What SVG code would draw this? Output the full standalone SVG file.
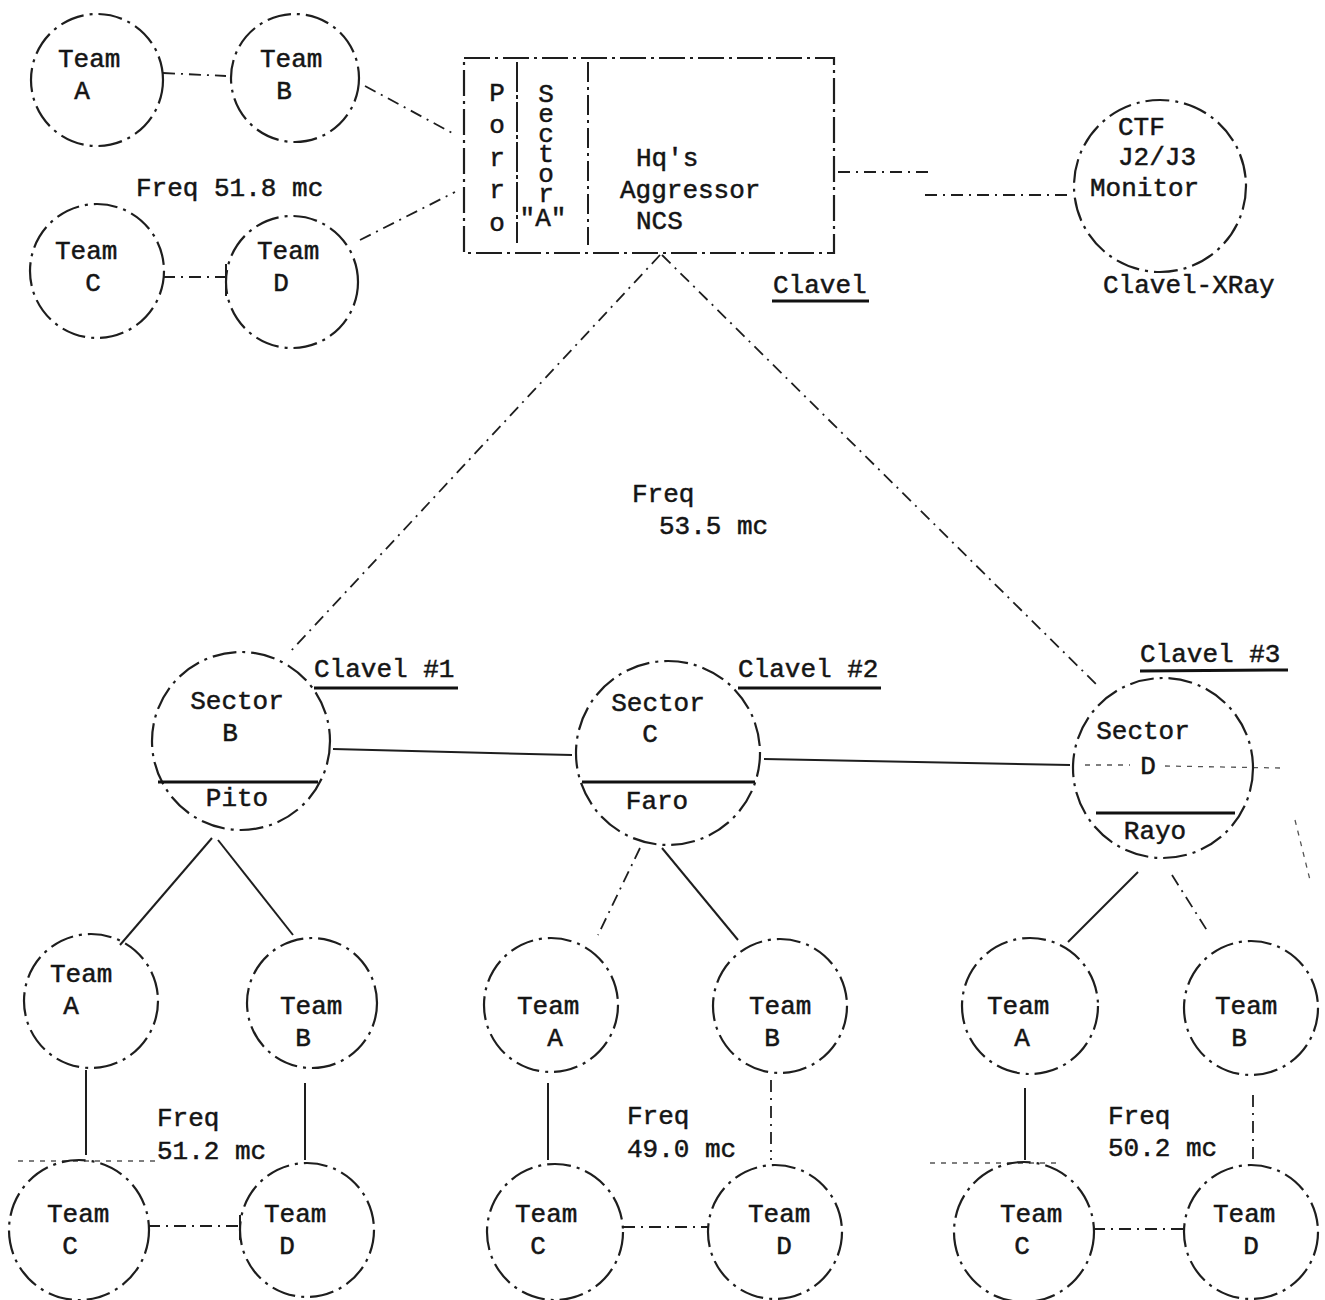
<svg xmlns="http://www.w3.org/2000/svg" width="1325" height="1300" viewBox="0 0 1325 1300">
<style>
.t{font-family:"Liberation Mono","Courier New",monospace;font-size:26px;fill:#151515;stroke:#151515;stroke-width:0.5}
.m{text-anchor:middle}
.v{writing-mode:vertical-rl;text-orientation:upright}
.c{fill:none;stroke:#1e1e1e;stroke-width:2.2;stroke-dasharray:24 6 3 6}
.box{fill:none;stroke:#1e1e1e;stroke-width:2.2;stroke-dasharray:26 5 3 5}
.div{stroke:#111;stroke-width:3.2}
.l{fill:none;stroke:#1e1e1e;stroke-width:2}
.dd{fill:none;stroke:#1e1e1e;stroke-width:1.8;stroke-dasharray:12 6 2 6}
.dt{fill:none;stroke:#555;stroke-width:1.3;stroke-dasharray:5 6}
.ul{stroke:#111;stroke-width:3}
</style>
<rect width="1325" height="1300" fill="#fff"/>

<g id="connectors">
  <line class="dd" x1="163" y1="73" x2="226" y2="76"/>
  <line class="dd" x1="163" y1="277" x2="226" y2="277"/>
  <line class="l" x1="226" y1="264" x2="226" y2="296"/>
  <line class="dd" x1="365" y1="86" x2="456" y2="135"/>
  <line class="dd" x1="360" y1="240" x2="455" y2="192"/>
  <line class="dd" x1="838" y1="172" x2="930" y2="172"/>
  <line class="dd" x1="925" y1="195" x2="1073" y2="195"/>
  <line class="dd" x1="660" y1="255" x2="289" y2="653"/>
  <line class="dd" x1="662" y1="255" x2="1100" y2="688"/>
  <line class="l" x1="333" y1="749" x2="572" y2="755"/>
  <line class="l" x1="764" y1="759" x2="1070" y2="765"/>
  <line class="dt" x1="1085" y1="765" x2="1130" y2="765"/>
  <line class="dt" x1="1165" y1="766" x2="1280" y2="768"/>
  <line class="dt" x1="1295" y1="820" x2="1310" y2="880"/>
  <line class="l" x1="212" y1="838" x2="120" y2="945"/>
  <line class="l" x1="218" y1="840" x2="293" y2="935"/>
  <line class="l" x1="86" y1="1070" x2="86" y2="1155"/>
  <line class="l" x1="305" y1="1083" x2="305" y2="1160"/>
  <line class="dd" x1="148" y1="1226" x2="240" y2="1226"/>
  <line class="l" x1="240" y1="1215" x2="240" y2="1240"/>
  <line class="dt" x1="18" y1="1161" x2="160" y2="1161"/>
  <line class="dd" x1="640" y1="848" x2="598" y2="935"/>
  <line class="l" x1="662" y1="848" x2="738" y2="940"/>
  <line class="l" x1="548" y1="1083" x2="548" y2="1160"/>
  <line class="dd" x1="771" y1="1080" x2="771" y2="1160"/>
  <line class="dd" x1="623" y1="1227" x2="708" y2="1227"/>
  <line class="l" x1="1138" y1="872" x2="1068" y2="942"/>
  <line class="dd" x1="1172" y1="875" x2="1208" y2="932"/>
  <line class="l" x1="1025" y1="1088" x2="1025" y2="1160"/>
  <line class="dd" x1="1253" y1="1095" x2="1253" y2="1160"/>
  <line class="dd" x1="1093" y1="1229" x2="1185" y2="1229"/>
  <line class="dt" x1="930" y1="1163" x2="1060" y2="1163"/>
</g>

<g id="tl-teamA"><circle class="c" cx="97" cy="80" r="66"/>
<text class="t" x="58" y="67">Team</text><text class="t m" x="82" y="99">A</text></g>
<g id="tl-teamB"><circle class="c" cx="295" cy="78" r="64"/>
<text class="t" x="260" y="67">Team</text><text class="t m" x="284" y="99">B</text></g>
<g id="tl-teamC"><circle class="c" cx="97" cy="271" r="67"/>
<text class="t" x="55" y="259">Team</text><text class="t m" x="93" y="291">C</text></g>
<g id="tl-teamD"><circle class="c" cx="292" cy="282" r="66"/>
<text class="t" x="257" y="259">Team</text><text class="t m" x="281" y="291">D</text></g>
<text class="t" x="136" y="196">Freq 51.8 mc</text>

<g id="hq">
  <rect class="box" x="464" y="58" width="370" height="195"/>
  <line class="l" x1="517" y1="62" x2="517" y2="243" stroke-dasharray="30 3 4 3"/>
  <line class="l" x1="588" y1="62" x2="588" y2="245" stroke-dasharray="20 5 3 5"/>
  <text class="t m"><tspan x="497" y="101">P</tspan><tspan x="497" y="133">o</tspan><tspan x="497" y="166">r</tspan><tspan x="497" y="198">r</tspan><tspan x="497" y="231">o</tspan></text>
  <text class="t v" x="546" y="80" style="letter-spacing:-10px">Sector</text>
  <text class="t m" x="543" y="226">"A"</text>
  <text class="t" x="636" y="166">Hq's</text>
  <text class="t" x="620" y="198">Aggressor</text>
  <text class="t" x="636" y="229">NCS</text>
  <text class="t" x="773" y="293">Clavel</text>
  <line class="ul" x1="772" y1="301" x2="869" y2="301"/>
</g>

<g id="ctf">
  <circle class="c" cx="1160" cy="186" r="86"/>
  <text class="t" x="1118" y="135">CTF</text>
  <text class="t" x="1118" y="165">J2/J3</text>
  <text class="t" x="1090" y="196">Monitor</text>
  <text class="t" x="1103" y="293">Clavel-XRay</text>
</g>

<text class="t" x="632" y="502">Freq</text>
<text class="t" x="659" y="534">53.5 mc</text>

<g id="sectorB">
  <circle class="c" cx="241" cy="741" r="89"/>
  <line class="div" x1="158" y1="782" x2="318" y2="782"/>
  <text class="t m" x="237" y="709">Sector</text>
  <text class="t m" x="230" y="741">B</text>
  <text class="t m" x="237" y="806">Pito</text>
  <text class="t" x="314" y="677">Clavel #1</text>
  <line class="ul" x1="314" y1="688" x2="458" y2="688"/>
</g>
<g id="sectorC">
  <circle class="c" cx="668" cy="753" r="92"/>
  <line class="div" x1="582" y1="782" x2="755" y2="782"/>
  <text class="t m" x="658" y="711">Sector</text>
  <text class="t m" x="650" y="742">C</text>
  <text class="t m" x="657" y="809">Faro</text>
  <text class="t" x="738" y="677">Clavel #2</text>
  <line class="ul" x1="738" y1="688" x2="881" y2="688"/>
</g>
<g id="sectorD">
  <circle class="c" cx="1163" cy="768" r="90" stroke-width="2.8"/>
  <line class="div" x1="1096" y1="813" x2="1235" y2="813"/>
  <text class="t m" x="1143" y="739">Sector</text>
  <text class="t m" x="1148" y="774">D</text>
  <text class="t m" x="1155" y="839">Rayo</text>
  <text class="t" x="1140" y="662">Clavel #3</text>
  <line class="ul" x1="1140" y1="671" x2="1288" y2="670"/>
</g>

<g id="b-teamA"><circle class="c" cx="91" cy="1001" r="67"/>
<text class="t" x="50" y="982">Team</text><text class="t m" x="71" y="1014">A</text></g>
<g id="b-teamB"><circle class="c" cx="312" cy="1003" r="65"/>
<text class="t" x="280" y="1014">Team</text><text class="t m" x="303" y="1046">B</text></g>
<g id="b-teamC"><circle class="c" cx="79" cy="1230" r="70" stroke-width="2.8"/>
<text class="t" x="47" y="1222">Team</text><text class="t m" x="70" y="1254">C</text></g>
<g id="b-teamD"><circle class="c" cx="307" cy="1230" r="67"/>
<text class="t" x="264" y="1222">Team</text><text class="t m" x="287" y="1254">D</text></g>
<text class="t" x="157" y="1126">Freq</text>
<text class="t" x="157" y="1159">51.2 mc</text>

<g id="c-teamA"><circle class="c" cx="551" cy="1005" r="67"/>
<text class="t" x="517" y="1014">Team</text><text class="t m" x="555" y="1046">A</text></g>
<g id="c-teamB"><circle class="c" cx="780" cy="1006" r="67"/>
<text class="t" x="749" y="1014">Team</text><text class="t m" x="772" y="1046">B</text></g>
<g id="c-teamC"><circle class="c" cx="555" cy="1232" r="68"/>
<text class="t" x="515" y="1222">Team</text><text class="t m" x="538" y="1254">C</text></g>
<g id="c-teamD"><circle class="c" cx="775" cy="1232" r="67"/>
<text class="t" x="748" y="1222">Team</text><text class="t m" x="784" y="1254">D</text></g>
<text class="t" x="627" y="1124">Freq</text>
<text class="t" x="627" y="1157">49.0 mc</text>

<g id="d-teamA"><circle class="c" cx="1030" cy="1006" r="68"/>
<text class="t" x="987" y="1014">Team</text><text class="t m" x="1022" y="1046">A</text></g>
<g id="d-teamB"><circle class="c" cx="1251" cy="1008" r="67"/>
<text class="t" x="1215" y="1014">Team</text><text class="t m" x="1239" y="1046">B</text></g>
<g id="d-teamC"><circle class="c" cx="1024" cy="1232" r="70" stroke-width="2.8"/>
<text class="t" x="1000" y="1222">Team</text><text class="t m" x="1022" y="1254">C</text></g>
<g id="d-teamD"><circle class="c" cx="1251" cy="1232" r="67" stroke-width="2.6"/>
<text class="t" x="1213" y="1222">Team</text><text class="t m" x="1251" y="1254">D</text></g>
<text class="t" x="1108" y="1124">Freq</text>
<text class="t" x="1108" y="1156">50.2 mc</text>
</svg>
